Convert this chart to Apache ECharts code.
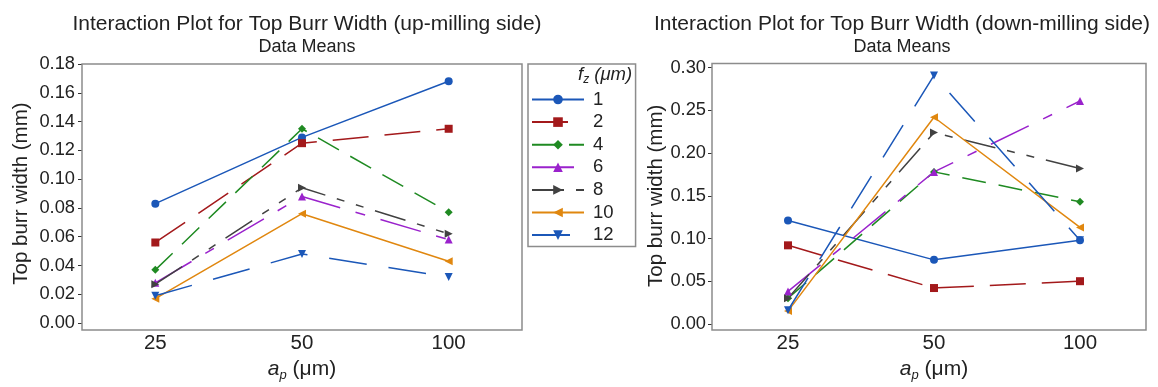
<!DOCTYPE html>
<html>
<head>
<meta charset="utf-8">
<script src="https://cdn.jsdelivr.net/npm/echarts@6/dist/echarts.min.js"></script>
<style>
  html, body { margin: 0; padding: 0; background: #fff; }
  #chart { width: 1158px; height: 387px; }
</style>
</head>
<body>
<div id="chart"></div>
<script>
// a_p levels (x axis) and f_z levels (series)
var apLevels = ['25', '50', '100'];
var fzLevels = ['1', '2', '4', '6', '8', '10', '12'];

// data means, one row per f_z level, values at a_p = 25, 50, 100
var upMilling = [
    [0.083, 0.129, 0.168],
    [0.056, 0.125, 0.135],
    [0.037, 0.135, 0.077],
    [0.028, 0.088, 0.058],
    [0.027, 0.094, 0.062],
    [0.017, 0.076, 0.043],
    [0.019, 0.048, 0.032]
];
var downMilling = [
    [0.121, 0.075, 0.098],
    [0.092, 0.042, 0.050],
    [0.030, 0.178, 0.143],
    [0.038, 0.178, 0.261],
    [0.030, 0.224, 0.182],
    [0.015, 0.242, 0.113],
    [0.016, 0.291, 0.098]
];

var colors = ['#1b57b8', '#a3191b', '#1f8a22', '#9a22cc', '#414141', '#e0870f', '#1b57b8'];
var symbols = [
    'circle', 'rect', 'diamond', 'triangle',
    'path://M0,0 L10,5 L0,10 Z',
    'path://M10,0 L0,5 L10,10 Z',
    'path://M0,0 L10,0 L5,10 Z'
];
var dashes = ['solid', [36, 16], [24, 13], [42, 16, 10, 16], [32, 12, 8, 12, 8, 12], 'solid', [38, 22]];

var font = 'Liberation Sans, Arial, sans-serif';
var frameColor = '#8c8c8c';

var chart = echarts.init(document.getElementById('chart'));

function makeX(idx, offset) {
    return {
        type: 'category',
        gridIndex: idx,
        data: apLevels,
        offset: offset,
        axisLine: { show: false },
        axisTick: { alignWithLabel: true, length: 4, lineStyle: { color: '#333' } },
        axisLabel: { color: '#222', fontSize: 20.5, fontFamily: font, margin: 7 },
        name: '{i|a}{s|p} (μm)',
        nameLocation: 'middle',
        nameGap: 30,
        nameTextStyle: {
            color: '#222', fontSize: 21, fontFamily: font,
            rich: {
                i: { fontSize: 21, fontStyle: 'italic', fontFamily: font, color: '#222' },
                s: { fontSize: 13, fontStyle: 'italic', fontFamily: font, color: '#222', padding: [13, 0, 0, 0] }
            }
        }
    };
}

function makeY(idx, max, interval, gap, offset, margin) {
    return {
        type: 'value',
        gridIndex: idx,
        min: 0,
        max: max,
        interval: interval,
        offset: offset,
        splitLine: { show: false },
        axisLine: { show: false },
        axisTick: { show: true, length: 4, lineStyle: { color: '#333' } },
        axisLabel: {
            color: '#222', fontSize: 18.3, fontFamily: font, margin: margin,
            formatter: function (v) { return v.toFixed(2); }
        },
        name: 'Top burr width (mm)',
        nameLocation: 'middle',
        nameGap: gap,
        nameTextStyle: { color: '#222', fontSize: 20.5, fontFamily: font }
    };
}

var series = [];
[upMilling, downMilling].forEach(function (rows, g) {
    rows.forEach(function (vals, i) {
        series.push({
            type: 'line',
            name: fzLevels[i],
            xAxisIndex: g,
            yAxisIndex: g,
            data: vals,
            color: colors[i],
            symbol: symbols[i],
            symbolSize: 8,
            showAllSymbol: true,
            lineStyle: { width: 1.5, type: dashes[i], color: colors[i] },
            itemStyle: { color: colors[i] },
            animation: false
        });
    });
});

function makeTitle(text, x) {
    return {
        text: text,
        subtext: 'Data Means',
        left: x, top: 9, textAlign: 'center', itemGap: 3,
        textStyle: { fontSize: 21, fontWeight: 'normal', color: '#222', fontFamily: font },
        subtextStyle: { fontSize: 18, color: '#222', fontFamily: font }
    };
}

chart.setOption({
    backgroundColor: '#fff',
    animation: false,
    title: [
        makeTitle('Interaction Plot for Top Burr Width (up-milling side)', 302),
        makeTitle('Interaction Plot for Top Burr Width (down-milling side)', 897)
    ],
    // data grids; the plot frames are drawn separately below
    grid: [
        { left: 82, top: 64, width: 440, height: 263.5 },
        { left: 715, top: 67.7, width: 438, height: 260.3 }
    ],
    xAxis: [makeX(0, 2.5), makeX(1, 1.7)],
    yAxis: [makeY(0, 0.18, 0.02, 50, 0, 7), makeY(1, 0.30, 0.05, 43, 3, 6)],
    legend: {
        data: fzLevels,
        orient: 'vertical',
        left: 528, top: 64,
        padding: [26, 22, 2, 3],
        itemWidth: 52, itemHeight: 12, itemGap: 3.6,
        borderColor: frameColor, borderWidth: 1.5,
        textStyle: { fontSize: 18.5, color: '#222', fontFamily: font, padding: [0, 0, 0, 4] },
        selectedMode: false
    },
    graphic: [
        {
            type: 'rect', silent: true, z: 10,
            shape: { x: 82, y: 64, width: 440, height: 266 },
            style: { fill: 'none', stroke: frameColor, lineWidth: 1.5 }
        },
        {
            type: 'rect', silent: true, z: 10,
            shape: { x: 712, y: 63.5, width: 434, height: 266.5 },
            style: { fill: 'none', stroke: frameColor, lineWidth: 1.5 }
        },
        {
            type: 'text', left: 578, top: 65,
            style: {
                text: '{i|f}{s|z}{i| (μm)}',
                rich: {
                    i: { fontSize: 18.5, fontStyle: 'italic', fontFamily: font, fill: '#222' },
                    s: { fontSize: 12, fontStyle: 'italic', fontFamily: font, fill: '#222', padding: [11, 0, 0, 0] }
                }
            }
        }
    ],
    series: series
});
</script>
</body>
</html>
